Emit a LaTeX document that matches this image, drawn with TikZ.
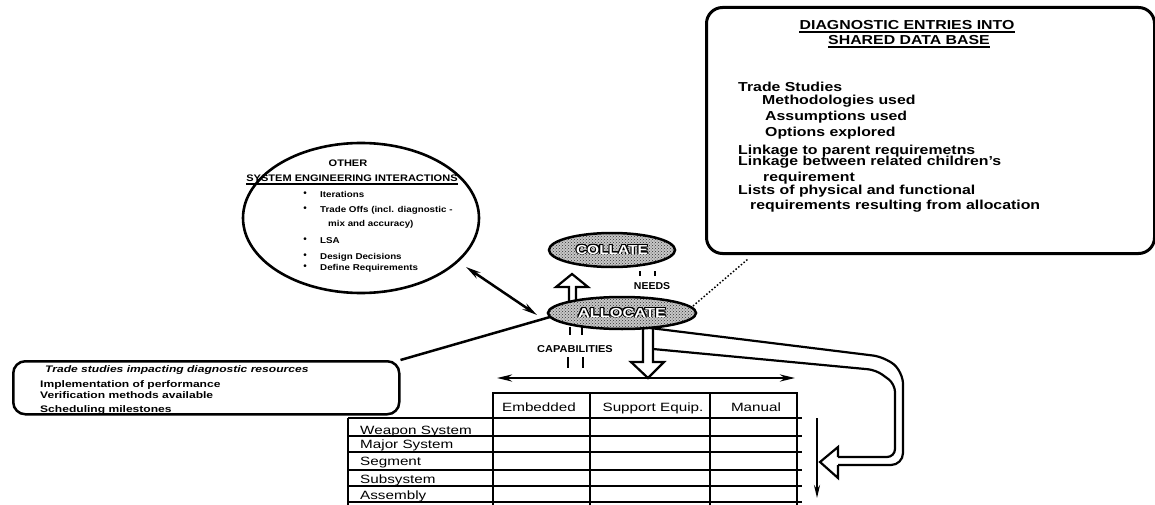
\documentclass[tikz,border=0pt]{standalone}
\usepackage{fontspec}
\setmainfont{Liberation Sans}
\usepackage{contour}
\contourlength{0.8pt}
\usetikzlibrary{arrows.meta,shapes.geometric,patterns}
% horizontally widened text, and a size switch in px-like points
\newcommand{\wx}[2]{\scalebox{#1}[1]{#2}}
\newcommand{\fs}[1]{\fontsize{#1}{#1}\selectfont}

\begin{document}
\begin{tikzpicture}[x=1pt,y=-1pt,
  ink/.style={line width=2.5pt, line join=round},
  txt/.style={inner sep=0pt, anchor=base west},
  ctr/.style={inner sep=0pt, anchor=base},
  dbt/.style={txt, font={\fs{13}\bfseries}},
  elt/.style={txt, font={\fs{8.5}\bfseries}},
  lbt/.style={txt, font={\fs{9.5}\bfseries}},
  tbt/.style={txt, font={\fs{12}}},
  blob/.style={ellipse, draw, line width=2.5pt, inner sep=0pt,
    preaction={fill=black!22}, pattern=crosshatch dots, pattern color=black!80},
  hollow/.style={draw, line width=2.2pt, fill=white, line join=miter},
  dtip/.style={{Stealth[length=15pt,width=7pt]}-{Stealth[length=15pt,width=7pt]}},
  stip/.style={-{Stealth[length=13pt,width=6pt]}},
]
\useasboundingbox (0,0) rectangle (1155,505);
\clip (0,0) rectangle (1155,505);

% ---------- data base box ----------
\node[draw, rounded corners=16pt, line width=3pt, minimum width=448pt,
      minimum height=246pt, anchor=north west] (db) at (705,6) {};
\node[ctr, font={\fs{13}\bfseries}] (dbt1) at (907,30) {\wx{1.22}{DIAGNOSTIC ENTRIES INTO}};
\node[ctr, font={\fs{13}\bfseries}] (dbt2) at (909,45) {\wx{1.22}{SHARED DATA BASE}};
\draw[line width=1.5pt] ([yshift=-2pt]dbt1.base west) -- ([yshift=-2pt]dbt1.base east);
\draw[line width=1.5pt] ([yshift=-2pt]dbt2.base west) -- ([yshift=-2pt]dbt2.base east);
\node[dbt] (d1) at (738,92)  {\wx{1.22}{Trade Studies}};
\node[dbt] (d2) at (762,105) {\wx{1.22}{Methodologies used}};
\node[dbt] (d3) at (765,121) {\wx{1.22}{Assumptions used}};
\node[dbt] (d4) at (765,137) {\wx{1.22}{Options explored}};
\node[dbt] (d5) at (738,155) {\wx{1.22}{Linkage to parent requiremetns}};
\node[dbt] (d6) at (738,166) {\wx{1.22}{Linkage between related children's}};
\node[dbt] (d7) at (763,182) {\wx{1.22}{requirement}};
\node[dbt] (d8) at (738,194) {\wx{1.22}{Lists of physical and functional}};
\node[dbt] (d9) at (750,209) {\wx{1.22}{requirements resulting from allocation}};

% ---------- other interactions ellipse ----------
\node[ellipse, draw, line width=2.6pt, minimum width=236pt, minimum height=150pt,
      inner sep=0pt] (other) at (361,218) {};
\node[ctr, font={\fs{9.5}\bfseries}] (o1) at (348,167) {\wx{1.16}{OTHER}};
\node[ctr, font={\fs{9.5}\bfseries}] (o2) at (352,182) {\wx{1.16}{SYSTEM ENGINEERING INTERACTIONS}};
\draw[line width=1.4pt] ([yshift=-2pt]o2.base west) -- ([yshift=-2pt]o2.base east);
\foreach \yb/\nm/\tx in {197/i1/Iterations, 212/i2/{Trade Offs (incl. diagnostic -}, 243/i4/LSA,
                         259/i5/Design Decisions, 270/i6/Define Requirements}{
  \node[elt] (\nm) at (320,\yb) {\wx{1.15}{\tx}};
  \node[inner sep=0pt, font={\fs{10}}] (b\nm) at (305,\yb-3) {\textbullet};
}
\node[elt] (i3) at (328,226) {\wx{1.15}{mix and accuracy)}};

% ---------- left box ----------
\node[draw, rounded corners=12pt, line width=2.5pt, minimum width=386pt,
      minimum height=53pt, anchor=north west] (lb) at (12,360) {};
\node[lbt] (l1) at (45,372) {\wx{1.27}{\itshape Trade studies impacting diagnostic resources}};
\node[lbt] (l2) at (40,387) {\wx{1.27}{Implementation of performance}};
\node[lbt] (l3) at (40,398) {\wx{1.27}{Verification methods available}};
\node[lbt] (l4) at (40,412) {\wx{1.27}{Scheduling milestones}};

% ---------- hollow arrows leaving ALLOCATE ----------
\draw[hollow] (569,304) -- (569,287) -- (556,287) -- (572,274) -- (588,287)
              -- (576,287) -- (576,304);
\draw[hollow] (643,322) -- (643,362) -- (631,362) -- (648,378) -- (664,362)
              -- (653,362) -- (653,322);
% tube bending round to the right of the table
\draw[line width=2.2pt, line join=round, rounded corners=12pt]
  (650,328) -- (885,357) -- (903,372) -- (903,465) -- (838,465);
\draw[line width=2.2pt, line join=round, rounded corners=8pt]
  (653,349) -- (876,370) -- (895,384) -- (895,457) -- (838,457);
\draw[line width=2.2pt, line join=miter]
  (838,457) -- (838,447) -- (820,462) -- (838,478) -- (838,465);

% ---------- COLLATE / ALLOCATE ----------
\node[blob, minimum width=126pt, minimum height=34pt] (collate) at (612,250)
  {\fs{13}\bfseries\wx{1.19}{\contour{black}{\textcolor{white}{COLLATE}}}};
\node[blob, minimum width=148pt, minimum height=32pt] (allocate) at (622,313)
  {\fs{13}\bfseries\wx{1.26}{\contour{black}{\textcolor{white}{ALLOCATE}}}};

\node[ctr, font={\fs{10}\bfseries}] (needs) at (652,289) {\wx{1.05}{NEEDS}};
\node[ctr, font={\fs{10}\bfseries}] (caps) at (575,352) {\wx{1.1}{CAPABILITIES}};
\draw[line width=1.8pt] (640,271) -- (640,276) (655,271) -- (655,276);
\draw[line width=1.8pt] (570,327) -- (570,335) (582,327) -- (582,335);
\draw[line width=1.8pt] (568,357) -- (568,368) (583,357) -- (583,368);

% ---------- connectors ----------
\coordinate (oa) at (466,267);
\coordinate (ao) at (537,315);
\draw[ink, dtip] (oa) -- (ao);
\coordinate (al) at (550,317);
\draw[ink] (lb.north east) -- (al);
\coordinate (ar) at (693,306);
\coordinate (dbc) at (748,259);
\draw[line width=1.5pt, dotted] (ar) -- (dbc);

% ---------- table ----------
\coordinate (hl) at (497,378);
\coordinate (hr) at (795,378);
\draw[ink, dtip] (hl) -- (hr);

\begin{scope}[line width=2.2pt]
  \draw (493,393) rectangle (797,418);
  \draw (348,418) -- (348,510);
  \draw (493,418) -- (493,510);
  \draw (590,393) -- (590,510);
  \draw (710,393) -- (710,510);
  \draw (797,418) -- (797,510);
  \foreach \yy in {418,436,452,470,486,502} \draw (348,\yy) -- (802,\yy);
\end{scope}
\node[ctr, font={\fs{12}}] (h1) at (539,411) {\wx{1.27}{Embedded}};
\node[ctr, font={\fs{12}}] (h2) at (653,411) {\wx{1.27}{Support Equip.}};
\node[ctr, font={\fs{12}}] (h3) at (756,411) {\wx{1.27}{Manual}};
\node[tbt] (r1) at (360,434) {\wx{1.27}{Weapon System}};
\node[tbt] (r2) at (360,448) {\wx{1.27}{Major System}};
\node[tbt] (r3) at (360,465) {\wx{1.27}{Segment}};
\node[tbt] (r4) at (360,483) {\wx{1.27}{Subsystem}};
\node[tbt] (r5) at (360,499) {\wx{1.27}{Assembly}};

\coordinate (vt) at (817,418);
\coordinate (vb) at (817,498);
\draw[line width=2pt, stip] (vt) -- (vb);
\end{tikzpicture}
\end{document}
